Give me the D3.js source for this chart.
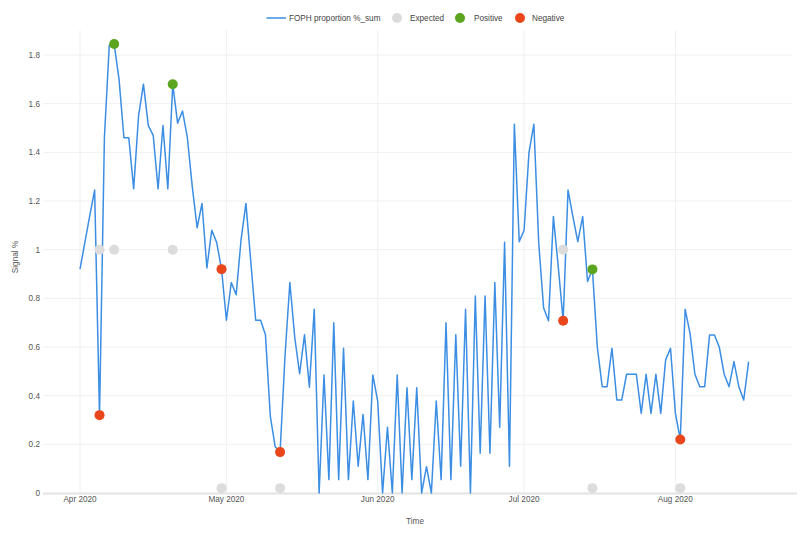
<!DOCTYPE html>
<html>
<head>
<meta charset="utf-8">
<script src="https://cdn.jsdelivr.net/npm/d3@7"></script>
<style>
  body { margin: 0; background: #fff; font-family: "Liberation Sans", Arial, sans-serif; }
</style>
</head>
<body>
<div id="chart"></div>
<script>
// daily values starting 2020-04-01
const startDate = new Date(2020, 3, 1);
const signal = [
  0.92, 1.03, 1.14, 1.245, 0.32, 1.46, 1.84, 1.845, 1.70, 1.46,
  1.46, 1.25, 1.55, 1.68, 1.51, 1.47, 1.25, 1.51, 1.25, 1.68,
  1.52, 1.57, 1.46, 1.26, 1.09, 1.19, 0.925, 1.08, 1.03, 0.92,
  0.71, 0.865, 0.815, 1.04, 1.19, 0.95, 0.71, 0.71, 0.65, 0.315,
  0.19, 0.168, 0.56, 0.865, 0.64, 0.49, 0.65, 0.435, 0.755, 0,
  0.485, 0.055, 0.70, 0.055, 0.595, 0.055, 0.378, 0.11, 0.323, 0.055,
  0.485, 0.378, 0, 0.27, 0, 0.485, 0, 0.433, 0.055, 0.433,
  0, 0.108, 0, 0.378, 0.055, 0.70, 0.055, 0.65, 0.11, 0.755,
  0, 0.81, 0.163, 0.81, 0.163, 0.865, 0.27, 1.03, 0.11, 1.515,
  1.033, 1.08, 1.40, 1.515, 1.026, 0.76, 0.708, 1.136, 0.93, 0.708,
  1.245, 1.136, 1.033, 1.136, 0.869, 0.919, 0.60, 0.437, 0.437, 0.595,
  0.382, 0.382, 0.488, 0.488, 0.488, 0.327, 0.488, 0.327, 0.488, 0.327,
  0.547, 0.595, 0.327, 0.22, 0.755, 0.656, 0.488, 0.437, 0.437, 0.649,
  0.649, 0.599, 0.488, 0.437, 0.54, 0.437, 0.382, 0.54
];
const expectedIdx = [4, 7, 19, 29, 41, 99, 105, 123];
const expectedVal = [1, 1, 1, 0.02, 0.02, 1, 0.02, 0.02];
const positiveIdx = [7, 19, 105];
const negativeIdx = [4, 29, 41, 99, 123];
const yTicks = [0, 0.2, 0.4, 0.6, 0.8, 1, 1.2, 1.4, 1.6, 1.8];
const legendItems = ["FOPH proportion %_sum", "Expected", "Positive", "Negative"];

const W = 800, H = 533;
const plot = { left: 43, right: 792, top: 30, bottom: 493 };
const colors = { line: "#3b8ee3", expected: "#dcdcdc", positive: "#5ba51f", negative: "#e9461b" };
const fs = 8.2;

const dayOf = i => d3.timeDay.offset(startDate, i);
const series = signal.map((v, i) => ({ date: dayOf(i), value: v }));

const svg = d3.select("#chart").append("svg")
  .attr("width", W).attr("height", H);

const xScale = d3.scaleTime()
  .domain([startDate, dayOf(signal.length - 1)])
  .range([80, 748.6]);
const yScale = d3.scaleLinear().domain([0, 1.8]).range([493, 55]);

// grid
const months = d3.timeMonth.range(startDate, dayOf(signal.length));
svg.append("g").selectAll("line").data(months).enter().append("line")
  .attr("x1", d => xScale(d)).attr("x2", d => xScale(d))
  .attr("y1", plot.top).attr("y2", plot.bottom)
  .attr("stroke", "#f0f0f0").attr("stroke-width", 1);
svg.append("g").selectAll("line").data(yTicks.slice(1)).enter().append("line")
  .attr("x1", plot.left).attr("x2", plot.right)
  .attr("y1", d => yScale(d)).attr("y2", d => yScale(d))
  .attr("stroke", "#f0f0f0").attr("stroke-width", 1);

// y labels
svg.append("g").selectAll("text").data(yTicks).enter().append("text")
  .attr("x", 40).attr("y", d => yScale(d) + 3)
  .attr("text-anchor", "end")
  .attr("font-size", fs).attr("fill", "#555")
  .text(d => d3.format("~g")(d));

// x axis line + labels
svg.append("line")
  .attr("x1", plot.left).attr("x2", 797)
  .attr("y1", plot.bottom + 0.5).attr("y2", plot.bottom + 0.5)
  .attr("stroke", "#e3e3e3").attr("stroke-width", 2);
svg.append("g").selectAll("text").data(months).enter().append("text")
  .attr("x", d => xScale(d)).attr("y", 502)
  .attr("text-anchor", "middle")
  .attr("font-size", fs).attr("fill", "#555")
  .text(d3.timeFormat("%b %Y"));

// axis titles
svg.append("text")
  .attr("x", 415).attr("y", 524)
  .attr("text-anchor", "middle").attr("font-size", fs).attr("fill", "#555")
  .text("Time");
svg.append("text")
  .attr("transform", "translate(17.5,257) rotate(-90)")
  .attr("text-anchor", "middle").attr("font-size", fs).attr("fill", "#555")
  .text("Signal %");

// line
svg.append("path")
  .datum(series)
  .attr("d", d3.line().x(d => xScale(d.date)).y(d => yScale(d.value)))
  .attr("fill", "none")
  .attr("stroke", colors.line)
  .attr("stroke-width", 1.5)
  .attr("stroke-linejoin", "round");

// markers
const addDots = (idx, vals, color) => {
  svg.append("g").selectAll("circle").data(idx).enter().append("circle")
    .attr("cx", d => xScale(dayOf(d)))
    .attr("cy", (d, i) => yScale(vals[i]))
    .attr("r", 5)
    .attr("fill", color);
};
addDots(expectedIdx, expectedVal, colors.expected);
addDots(positiveIdx, positiveIdx.map(i => signal[i]), colors.positive);
addDots(negativeIdx, negativeIdx.map(i => signal[i]), colors.negative);

// legend
const legend = svg.append("g").attr("font-size", fs).attr("fill", "#444");
legend.append("line")
  .attr("x1", 266.5).attr("x2", 286).attr("y1", 18).attr("y2", 18)
  .attr("stroke", colors.line).attr("stroke-width", 1.5);
legend.append("text").attr("x", 289).attr("y", 21).text(legendItems[0]);
[[397, 410, colors.expected], [460, 474, colors.positive], [520, 532, colors.negative]]
  .forEach(([cx, tx, c], i) => {
    legend.append("circle").attr("cx", cx).attr("cy", 18).attr("r", 5).attr("fill", c);
    legend.append("text").attr("x", tx).attr("y", 21).text(legendItems[i + 1]);
  });
</script>
</body>
</html>
